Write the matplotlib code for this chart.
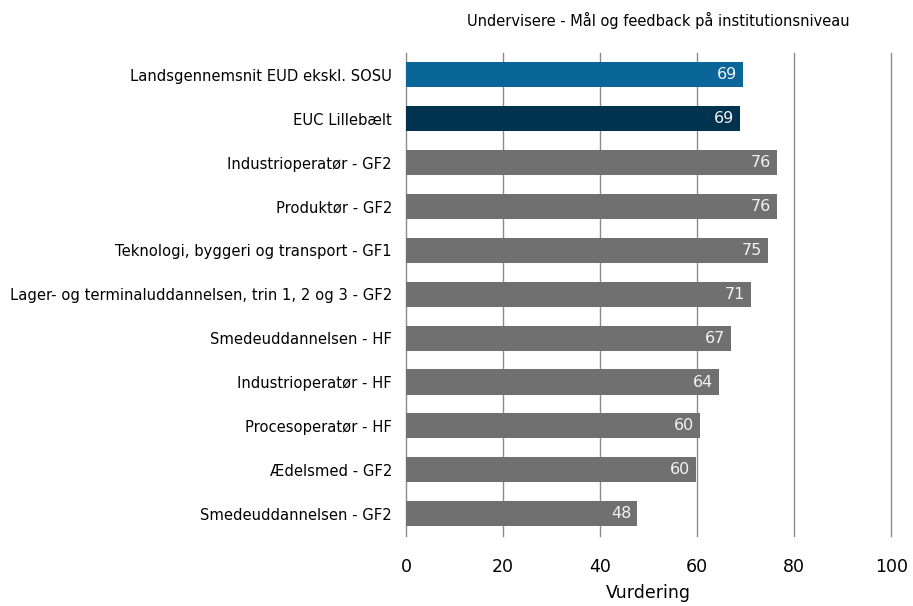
import matplotlib.pyplot as plt

categories = [
    "Landsgennemsnit EUD ekskl. SOSU",
    "EUC Lillebælt",
    "Industrioperatør - GF2",
    "Produktør - GF2",
    "Teknologi, byggeri og transport - GF1",
    "Lager- og terminaluddannelsen, trin 1, 2 og 3 - GF2",
    "Smedeuddannelsen - HF",
    "Industrioperatør - HF",
    "Procesoperatør - HF",
    "Ædelsmed - GF2",
    "Smedeuddannelsen - GF2",
]
values = [69.4, 68.8, 76.4, 76.4, 74.6, 71.1, 66.9, 64.5, 60.5, 59.7, 47.6]
labels = [69, 69, 76, 76, 75, 71, 67, 64, 60, 60, 48]
colors = ["#0a6699", "#003350"] + ["#707070"] * 9

plt.rcParams['font.family'] = ['DejaVu Sans']

fig = plt.figure(figsize=(9.13, 6.06), dpi=100)
ax = fig.add_axes([0.4447, 0.1163, 0.5315, 0.7962])

ypos = list(range(len(categories)))
ax.barh(ypos, values, height=0.57, color=colors, zorder=3)
for y, v, lab in zip(ypos, values, labels):
    ax.text(v - 1.2, y, str(lab), ha="right", va="center", color="#f2f2f2",
            fontsize=11.5, zorder=4)

ax.set_ylim(len(categories) - 0.5, -0.5)
ax.set_xlim(0, 100)
ax.set_yticks(ypos)
ax.set_yticklabels(categories, fontsize=10.6)
ax.set_xticks([0, 20, 40, 60, 80, 100])
ax.tick_params(axis="both", length=0)
ax.tick_params(axis="y", pad=10)
ax.tick_params(axis="x", labelsize=12.5, pad=16)
ax.set_xlabel("Vurdering", fontsize=12.5, labelpad=6)
ax.grid(axis="x", color="#8c8c8c", linewidth=1, zorder=0)
for gl in ax.get_xgridlines():
    gl.set_clip_on(False)
for s in ax.spines.values():
    s.set_visible(False)

fig.text(658 / 913, 1 - 20 / 606, "Undervisere - Mål og feedback på institutionsniveau",
         ha="center", va="center", fontsize=10.5)

fig.savefig("out.png", dpi=100)
